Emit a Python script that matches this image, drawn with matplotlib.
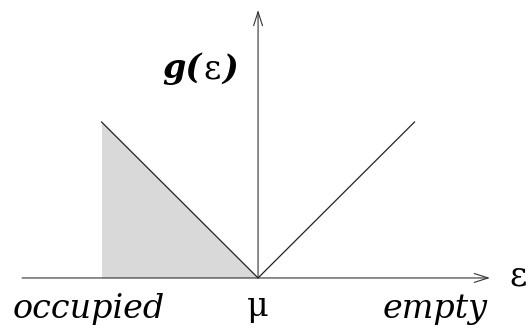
import matplotlib
matplotlib.use("Agg")
import matplotlib.pyplot as plt
from matplotlib.patches import FancyArrowPatch
from matplotlib.offsetbox import TextArea, HPacker, AnnotationBbox

# density of states around the chemical potential
eps = [-1.0, 0.0, 1.0]
g = [1.0, 0.0, 1.0]
occ_eps = [-1.0, 0.0]
occ_g = [1.0, 0.0]

serif = ["DejaVu Serif"]
fs = 24

fig = plt.figure(figsize=(5.28, 3.31), dpi=100)
ax = fig.add_axes([0, 0, 1, 1])
ax.set_xlim(-1.649, 1.725)
ax.set_ylim(-0.340, 1.782)
ax.axis("off")

# occupied states shaded up to mu
ax.fill_between(occ_eps, occ_g, 0, color="#d9d9d9", lw=0)
ax.plot(eps, g, color="#222222", lw=0.9)

# axes with open arrowheads
arr = dict(arrowstyle="->,head_length=10,head_width=3.2", mutation_scale=1,
           color="#333333", lw=0.8, shrinkA=0, shrinkB=0)
ax.add_patch(FancyArrowPatch((-1.508, 0), (1.482, 0), **arr))
ax.add_patch(FancyArrowPatch((0, 0), (0, 1.718), **arr))

ax.text(-1.08, -0.255, "occupied", ha="center", va="baseline",
        fontsize=fs, style="italic", family=serif)
ax.text(0, -0.245, "μ", ha="center", va="baseline", fontsize=fs, family=serif)
ax.text(1.13, -0.255, "empty", ha="center", va="baseline",
        fontsize=fs, style="italic", family=serif)
ax.text(1.66, 0.01, "ε", ha="center", va="center", fontsize=fs, family=serif)

# y-axis label g(ε): bold italic g and brackets, upright ε
bi = dict(fontsize=fs, style="italic", weight="bold", family=serif)
up = dict(fontsize=fs, family=serif)
parts = [TextArea("g(", textprops=bi), TextArea("ε", textprops=up),
         TextArea(")", textprops=bi)]
box = HPacker(children=parts, align="baseline", pad=0, sep=1)
ab = AnnotationBbox(box, (-0.37, 1.34), xycoords="data", frameon=False,
                    box_alignment=(0.5, 0.5))
ax.add_artist(ab)

fig.savefig("out.png", dpi=100)
